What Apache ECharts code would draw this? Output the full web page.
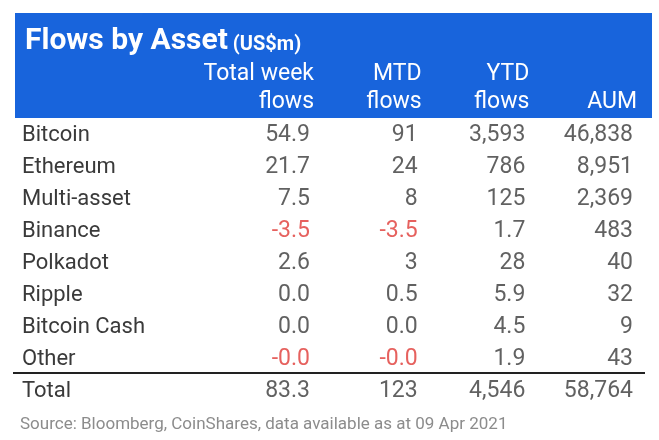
<!DOCTYPE html>
<html>
<head>
<meta charset="utf-8">
<script src="https://cdn.jsdelivr.net/npm/echarts@6/dist/echarts.min.js"></script>
<style>
html,body{margin:0;padding:0;background:#fff;}
#chart{width:659px;height:440px;}
</style>
</head>
<body>
<div id="chart"></div>
<script>
// ---- table content ----
const titleText = 'Flows by Asset';
const unitText = '(US$m)';
const sourceText = 'Source: Bloomberg, CoinShares, data available as at 09 Apr 2021';
const columns = ['Total week\nflows', 'MTD\nflows', 'YTD\nflows', 'AUM'];
const assets = ['Bitcoin', 'Ethereum', 'Multi-asset', 'Binance', 'Polkadot', 'Ripple', 'Bitcoin Cash', 'Other', 'Total'];
const weekFlows = ['54.9', '21.7', '7.5', '-3.5', '2.6', '0.0', '0.0', '-0.0', '83.3'];
const mtdFlows  = ['91', '24', '8', '-3.5', '3', '0.5', '0.0', '-0.0', '123'];
const ytdFlows  = ['3,593', '786', '125', '1.7', '28', '5.9', '4.5', '1.9', '4,546'];
const aum       = ['46,838', '8,951', '2,369', '483', '40', '32', '9', '43', '58,764'];

const FONT = 'Roboto';
const TEXT = '#3a3a3a';
const RED = '#e03a36';
const BLUE = '#1864dc';

const cols = [weekFlows, mtdFlows, ytdFlows, aum];
const series = cols.map((vals, ci) => ({
  type: 'scatter',
  symbolSize: 0,
  silent: true,
  data: vals.map((v, ri) => ({
    value: [columns[ci], assets[ri], v],
    label: {color: v.startsWith('-') ? RED : TEXT}
  })),
  label: {
    show: true,
    position: 'inside',
    align: 'right',
    verticalAlign: 'middle',
    fontFamily: FONT,
    fontSize: 23,
    formatter: p => p.value[2]
  },
  labelLayout: {hideOverlap: false}
}));

const chart = echarts.init(document.getElementById('chart'), null, {renderer: 'canvas'});
chart.setOption({
  backgroundColor: '#ffffff',
  animation: false,
  title: {
    text: '{a|' + titleText + '} {b|' + unitText + '}',
    left: 20,
    top: 20,
    textStyle: {
      rich: {
        a: {fontFamily: FONT, fontWeight: 'bold', fontSize: 30, color: '#fff', lineHeight: 32},
        b: {fontFamily: FONT, fontWeight: 'bold', fontSize: 20, color: '#fff', lineHeight: 32, padding: [8, 0, 0, 0]}
      }
    }
  },
  grid: {left: 310, right: 26, top: 119, bottom: 33},
  xAxis: {
    type: 'category',
    position: 'top',
    boundaryGap: false,
    data: columns,
    axisLine: {show: false},
    axisTick: {show: false},
    splitLine: {show: false},
    axisLabel: {
      interval: 0,
      align: 'right',
      verticalAlign: 'bottom',
      margin: 3,
      padding: [0, -4, 0, 0],
      fontFamily: FONT,
      fontSize: 23,
      lineHeight: 28,
      color: '#fff'
    }
  },
  yAxis: {
    type: 'category',
    inverse: true,
    data: assets,
    axisLine: {show: false},
    axisTick: {show: false},
    splitLine: {show: false},
    axisLabel: {
      interval: 0,
      align: 'left',
      margin: 288,
      fontFamily: FONT,
      fontSize: 22,
      color: TEXT
    }
  },
  graphic: [
    {type: 'rect', z: -10, shape: {x: 15, y: 13, width: 637, height: 105}, style: {fill: BLUE}},
    {type: 'line', shape: {x1: 13, y1: 373, x2: 645, y2: 373}, style: {stroke: '#222', lineWidth: 2}},
    {type: 'text', left: 20, top: 416, style: {text: sourceText, font: '17px ' + FONT, fill: '#8c8c8c'}}
  ],
  series: series
});
</script>
</body>
</html>
